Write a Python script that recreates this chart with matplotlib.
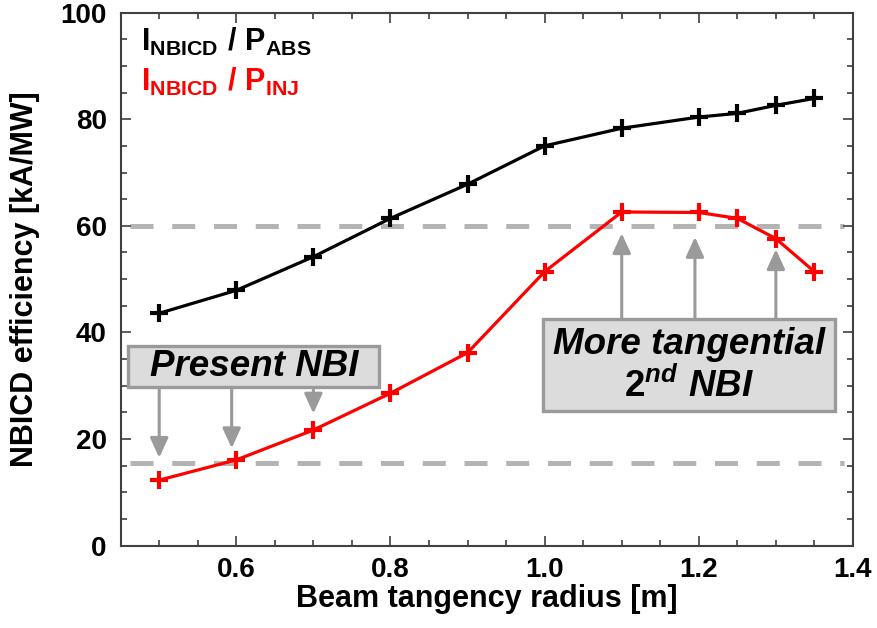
import matplotlib
matplotlib.use("Agg")
import matplotlib.pyplot as plt
from matplotlib.ticker import MultipleLocator, FixedLocator
from matplotlib.patches import Rectangle

# Beam tangency radius [m]
radius = [0.5, 0.6, 0.7, 0.8, 0.9, 1.0, 1.1, 1.2, 1.25, 1.3, 1.35]
# Current drive efficiency [kA/MW]
eff_abs = [43.6, 47.9, 54.2, 61.4, 67.8, 75.0, 78.3, 80.4, 81.1, 82.6, 83.9]
eff_inj = [12.3, 16.1, 21.7, 28.6, 36.2, 51.4, 62.6, 62.5, 61.4, 57.6, 51.4]

ref_levels = [60, 15.6]

present_x = [0.5, 0.594, 0.7]
present_tip = [16.5, 18.3, 24.8]
tangential_x = [1.1, 1.195, 1.3]
tangential_tip = [58.6, 57.9, 55.6]

xticks = [0.6, 0.8, 1.0, 1.2, 1.4]
xticklabels = ["0.6", "0.8", "1.0", "1.2", "1.4"]
yticks = [0, 20, 40, 60, 80, 100]

plt.rcParams["font.family"] = ["Liberation Sans", "DejaVu Sans"]
plt.rcParams["mathtext.fontset"] = "custom"
plt.rcParams["mathtext.rm"] = "Liberation Sans:bold"
plt.rcParams["mathtext.bf"] = "Liberation Sans:bold"
plt.rcParams["mathtext.it"] = "Liberation Sans:bold:italic"

fig = plt.figure(figsize=(8.77, 6.28), dpi=100)
ax = fig.add_axes([0.1376, 0.131, 0.8350, 0.849])

gray_line = "#b4b4b4"
box_edge = "#9a9a9a"
box_face = "#dcdcdc"
arrow_col = "#9a9a9a"

# reference levels
for lv in ref_levels:
    ax.hlines(lv, 0.462, 1.388, colors=gray_line, linewidth=3.6,
              linestyles=(0, (4.6, 3.75)), zorder=1)

ax.plot(radius, eff_abs, color="black", linewidth=2.3, marker="+",
        markersize=13, markeredgewidth=3.0, zorder=4)
ax.plot(radius, eff_inj, color="#ff0000", linewidth=2.3, marker="+",
        markersize=13, markeredgewidth=3.0, zorder=4)

ax.set_xlim(0.45, 1.40)
ax.set_ylim(0, 100)

ax.xaxis.set_major_locator(FixedLocator(xticks))
ax.set_xticklabels(xticklabels)
ax.xaxis.set_minor_locator(MultipleLocator(0.05))
ax.yaxis.set_major_locator(FixedLocator(yticks))
ax.yaxis.set_minor_locator(MultipleLocator(5))

ax.tick_params(which="both", direction="in", top=True, right=True,
               color="#404040", width=1.2)
ax.tick_params(which="major", length=7)
ax.tick_params(which="minor", length=4.5)
ax.tick_params(axis="y", labelsize=20, pad=10)
ax.tick_params(axis="x", labelsize=20, pad=8)
for lab in ax.get_yticklabels() + ax.get_xticklabels():
    lab.set_fontweight("bold")

for sp in ax.spines.values():
    sp.set_color("#404040")
    sp.set_linewidth(1.5)

ax.set_xlabel("Beam tangency radius [m]", fontsize=22, fontweight="bold",
              labelpad=1)
ax.set_ylabel("NBICD efficiency [kA/MW]", fontsize=22, fontweight="bold",
              labelpad=15)

# series labels
ax.text(0.477, 92.9, r"$\mathbf{I_{NBICD}\ /\ P_{ABS}}$", fontsize=22,
        color="black", va="baseline", ha="left")
ax.text(0.477, 85.4, r"$\mathbf{I_{NBICD}\ /\ P_{INJ}}$", fontsize=22,
        color="#ff0000", va="baseline", ha="left")

# annotation boxes
def box(x0, y0, x1, y1):
    ax.add_patch(Rectangle((x0, y0), x1 - x0, y1 - y0, facecolor=box_face,
                           edgecolor=box_edge, linewidth=2.4, zorder=5))

box(0.4599, 29.8, 0.7856, 37.4)
ax.text(0.6228, 33.6, "Present NBI", fontsize=26.5, fontweight="bold",
        style="italic", ha="center", va="center", zorder=6)

box(0.9984, 25.3, 1.377, 42.5)
ax.text(1.1877, 37.8, "More tangential", fontsize=26.5, fontweight="bold",
        style="italic", ha="center", va="center", zorder=6)
ax.text(1.1877, 29.8, r"$\mathit{2^{nd}\ NBI}$", fontsize=26.5,
        ha="center", va="center", zorder=6)

arrow_kw = dict(arrowstyle="-|>,head_length=1.2,head_width=0.55",
                color=arrow_col, linewidth=2.2, shrinkA=0, shrinkB=0)
for x, tip in zip(present_x, present_tip):
    ax.annotate("", xy=(x, tip), xytext=(x, 29.8), arrowprops=arrow_kw,
                zorder=3)
for x, tip in zip(tangential_x, tangential_tip):
    ax.annotate("", xy=(x, tip), xytext=(x, 42.5), arrowprops=arrow_kw,
                zorder=3)

fig.savefig("out.png", dpi=100)
